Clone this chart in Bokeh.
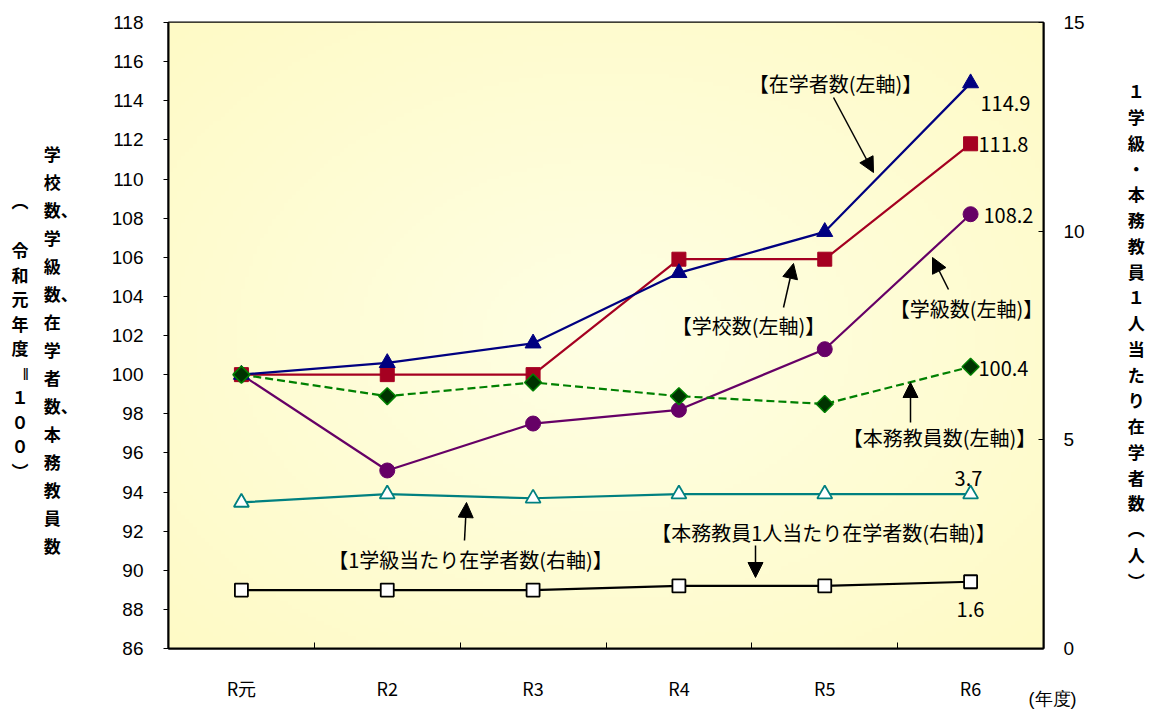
import numpy as np
from bokeh.plotting import figure
from bokeh.models import Range1d, LinearAxis, FixedTicker, Label, Arrow, NormalHead
from bokeh.embed import file_html
from bokeh.resources import INLINE

# ---------------- data ----------------
years = ["R元", "R2", "R3", "R4", "R5", "R6"]
students = [100.0, 100.6, 101.6, 105.2, 107.3, 114.9]     # 在学者数(左軸)
schools = [100.0, 100.0, 100.0, 105.9, 105.9, 111.8]      # 学校数(左軸)
classes = [100.0, 95.1, 97.5, 98.2, 101.3, 108.2]         # 学級数(左軸)
teachers = [100.0, 98.9, 99.6, 98.9, 98.5, 100.4]         # 本務教員数(左軸)
per_class = [3.5, 3.7, 3.6, 3.7, 3.7, 3.7]                # 1学級当たり在学者数(右軸)
per_teacher = [1.4, 1.4, 1.4, 1.5, 1.5, 1.6]              # 本務教員1人当たり在学者数(右軸)
left_ticks = list(range(86, 119, 2))
right_ticks = [0, 5, 10, 15]

# vertical (stacked) axis titles, one cell per line
left_title = ["　　", "学　", "校　", "数、", "学　", "級　", "数、", "在　", "学　", "者　", "数、",
              "本　", "務　", "教　", "員　", "数　"]
left_sub = ["︵", "　", "令", "和", "元", "年", "度", "ǁ", "１", "０", "０", "︶"]
right_title = ["１", "学", "級", "・", "本", "務", "教", "員", "１", "人", "当", "た", "り", "在", "学",
               "者", "数", "︵", "人", "︶"]

xs = list(range(len(years)))

# frame geometry (page px)
FL, FT, FW, FH = 168, 22, 875, 626
YMIN, YMAX = 86, 118


def X(px):
    return -0.5 + (px - FL) / FW * len(years)


def Y(py):
    return YMIN + (FT + FH - py) / FH * (YMAX - YMIN)


JP = "Noto Sans CJK JP"

p = figure(frame_width=FW, frame_height=FH,
           x_range=Range1d(-0.5, len(years) - 0.5), y_range=Range1d(YMIN, YMAX),
           output_backend="svg", toolbar_location=None,
           min_border_left=FL, min_border_right=102,
           min_border_top=FT, min_border_bottom=62)
p.extra_y_ranges = {"right": Range1d(0, 15)}
p.xgrid.visible = False
p.ygrid.visible = False
p.outline_line_color = "black"
p.outline_line_width = 2
p.border_fill_color = "white"
p.background_fill_color = "#FFFFDC"

# radial gradient background
ny, nx = 160, 220
gy, gx = np.mgrid[0:ny, 0:nx]
r = np.sqrt(((gx / (nx - 1)) - 0.5) ** 2 + ((gy / (ny - 1)) - 0.5) ** 2) / np.sqrt(0.5)
c0 = np.array([255, 255, 228])
c1 = np.array([254, 250, 198])
img = np.empty((ny, nx), dtype=np.uint32)
view = img.view(dtype=np.uint8).reshape((ny, nx, 4))
for k in range(3):
    view[:, :, k] = (c0[k] + (c1[k] - c0[k]) * r).astype(np.uint8)
view[:, :, 3] = 255
p.image_rgba(image=[img], x=-0.5, y=YMIN, dw=len(years), dh=YMAX - YMIN, level="image")

# x axis
xa = p.xaxis[0]
xa.ticker = FixedTicker(ticks=xs, minor_ticks=[i + 0.5 for i in xs[:-1]])
xa.major_label_overrides = {i: n for i, n in enumerate(years)}
xa.major_tick_line_color = None
xa.minor_tick_in = 6
xa.minor_tick_out = 0
xa.minor_tick_line_color = "black"
xa.axis_line_color = "black"
xa.axis_line_width = 2
xa.major_label_standoff = 20
xa.major_label_text_font = JP
xa.major_label_text_font_size = "18px"
xa.major_label_text_color = "black"

# left axis
ya = p.yaxis[0]
ya.ticker = FixedTicker(ticks=left_ticks)
ya.major_tick_out = 5
ya.major_tick_in = 0
ya.minor_tick_line_color = None
ya.axis_line_width = 2
ya.major_label_standoff = 20
ya.major_label_text_font = "Liberation Sans"
ya.major_label_text_font_size = "19px"
ya.major_label_text_color = "black"
ya.axis_label = "\n".join(left_title)
ya.axis_label_orientation = "horizontal"
ya.axis_label_standoff = 31
ya.axis_label_text_font = JP
ya.axis_label_text_font_size = "17px"
ya.axis_label_text_font_style = "bold"
ya.axis_label_text_line_height = 1.12
ya.axis_label_text_color = "black"

# outer left "axis" carrying only the sub-title
oa = LinearAxis(ticker=FixedTicker(ticks=[]))
oa.axis_line_color = None
oa.major_tick_line_color = None
oa.minor_tick_line_color = None
oa.major_tick_out = 0
oa.major_label_standoff = 0
oa.axis_label = "\n".join(left_sub)
oa.axis_label_orientation = "horizontal"
oa.axis_label_standoff = 12
oa.axis_label_text_font = JP
oa.axis_label_text_font_size = "17px"
oa.axis_label_text_font_style = "bold"
oa.axis_label_text_line_height = 0.98
oa.axis_label_text_color = "black"
p.add_layout(oa, "left")

# right axis
ra = LinearAxis(y_range_name="right", ticker=FixedTicker(ticks=right_ticks))
ra.major_tick_out = 0
ra.major_tick_in = 5
ra.minor_tick_line_color = None
ra.axis_line_width = 2
ra.major_label_standoff = 20
ra.major_label_text_font = "Liberation Sans"
ra.major_label_text_font_size = "19px"
ra.major_label_text_color = "black"
ra.axis_label = "\n".join(right_title)
ra.axis_label_orientation = "horizontal"
ra.axis_label_standoff = 40
ra.axis_label_text_font = JP
ra.axis_label_text_font_size = "17px"
ra.axis_label_text_font_style = "bold"
ra.axis_label_text_line_height = 1.03
ra.axis_label_text_color = "black"
p.add_layout(ra, "right")

# ---------------- series ----------------
p.line(xs, per_class, y_range_name="right", line_color="#008080", line_width=2.2)
p.scatter(xs, per_class, y_range_name="right", marker="triangle", size=15,
          fill_color="white", line_color="#008080", line_width=1.8)

p.line(xs, per_teacher, y_range_name="right", line_color="black", line_width=2.2)
p.scatter(xs, per_teacher, y_range_name="right", marker="square", size=13,
          fill_color="white", line_color="black", line_width=1.8)

p.line(xs, classes, line_color="#660066", line_width=2.2)
p.scatter(xs, classes, marker="circle", size=15, fill_color="#660066", line_color="#660066")

p.line(xs, schools, line_color="#A50021", line_width=2.2)
p.scatter(xs, schools, marker="square", size=14, fill_color="#A50021", line_color="#A50021")

p.line(xs, students, line_color="#000080", line_width=2.2)
p.scatter(xs, students, marker="triangle", size=16, fill_color="#000080", line_color="#000080")

p.line(xs, teachers, line_color="#008000", line_width=2.2, line_dash="8 4")
p.scatter(xs, teachers, marker="square", angle=np.pi / 4, size=12, fill_color="#003300",
          line_color="#008000", line_width=1.5)

# ---------------- annotations ----------------
notes = [
    ("【在学者数(左軸)】", 835, 83, (833, 97), (873, 172)),
    ("【学校数(左軸)】", 748, 325, (783, 307), (793, 263)),
    ("【学級数(左軸)】", 966, 308, (948, 289), (932, 257)),
    ("【本務教員数(左軸)】", 939, 437, (910, 422), (910, 382)),
    ("【1学級当たり在学者数(右軸)】", 470, 559, (464, 540), (466, 502)),
    ("【本務教員1人当たり在学者数(右軸)】", 823, 532, (755, 545), (755, 577)),
]
for txt, cx, cy, s, e in notes:
    p.add_layout(Label(x=X(cx), y=Y(cy), text=txt, text_align="center", text_baseline="middle",
                       text_font=JP, text_font_size="20px", text_color="black"))
    p.add_layout(Arrow(x_start=X(s[0]), y_start=Y(s[1]), x_end=X(e[0]), y_end=Y(e[1]),
                       line_color="black", line_width=1.5,
                       end=NormalHead(size=15, fill_color="black", line_color="black")))

vals = [
    ("114.9", 980, 103, "left"),
    ("111.8", 978, 144, "left"),
    ("108.2", 983, 215, "left"),
    ("100.4", 978, 368, "left"),
    ("3.7", 968, 478, "center"),
    ("1.6", 970, 609, "center"),
]
for txt, px, py, al in vals:
    p.add_layout(Label(x=X(px), y=Y(py), text=txt, text_align=al, text_baseline="middle",
                       text_font=JP, text_font_size="20px", text_color="black"))

# unit of the category axis, outside the frame (side panel => not clipped)
p.add_layout(Label(x=X(1052), y=Y(698), text="(年度)", text_align="center", text_baseline="middle",
                   text_font="Liberation Sans", text_font_size="18px", text_color="black"), "above")

open("out.html", "w").write(file_html(p, INLINE))
